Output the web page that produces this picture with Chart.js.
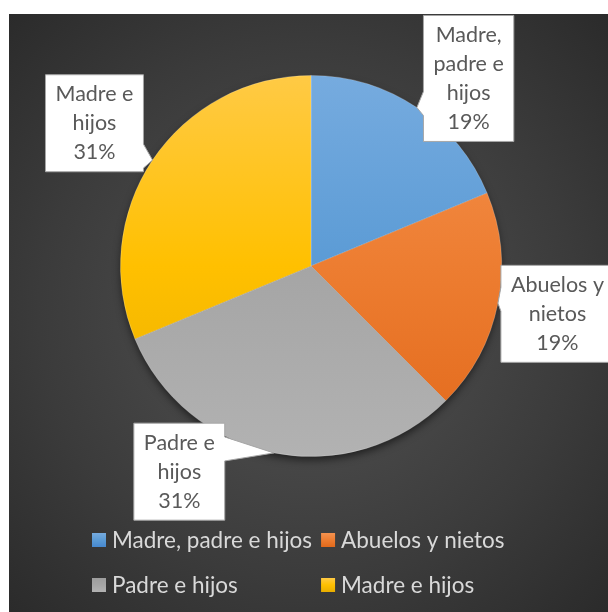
<!DOCTYPE html>
<html>
<head>
<meta charset="utf-8">
<script src="https://cdn.jsdelivr.net/npm/chart.js@4.4.0/dist/chart.umd.min.js"></script>
<style>
html, body { margin: 0; padding: 0; background: #fff; }
#wrap {
  position: absolute; left: 9px; top: 14px; width: 599px; height: 598px;
  background: radial-gradient(ellipse 75% 75% at 50% 50%, #545454 0%, #3b3b3b 60%, #282828 100%);
}
</style>
</head>
<body>
<div id="wrap"><canvas id="c" width="599" height="598"></canvas></div>
<script>
var categories = ['Madre, padre e hijos', 'Abuelos y nietos', 'Padre e hijos', 'Madre e hijos'];
var values = [3, 3, 5, 5]; // 19%, 19%, 31%, 31%
var labelLines = [['Madre,', 'padre e', 'hijos'], ['Abuelos y', 'nietos'], ['Padre e', 'hijos'], ['Madre e', 'hijos']];
var colorsTop = ['#76abdf', '#f5924f', '#9d9d9d', '#ffca45'];
var colorsMid = ['#5b9bd5', '#ed7d31', '#a5a5a5', '#ffc000'];
var colorsBottom = ['#4688cf', '#e2691b', '#b2b2b2', '#e9ae00'];
// where each label box sits, in pie radii from the pie centre
var calloutPos = [[0.827, -0.984], [1.293, 0.251], [-0.691, 1.079], [-1.136, -0.749]];

var FONT = 'Lato, "Open Sans", sans-serif';
var total = values.reduce(function (a, b) { return a + b; }, 0);

function vGradient(ctx, i, y0, y1) {
  var g = ctx.createLinearGradient(0, y0, 0, y1);
  g.addColorStop(0, colorsTop[i]);
  g.addColorStop(0.5, colorsMid[i]);
  g.addColorStop(1, colorsBottom[i]);
  return g;
}

// soft shadow under the whole pie
var pieShadow = {
  id: 'pieShadow',
  beforeDatasetsDraw: function (chart) {
    var arc = chart.getDatasetMeta(0).data[0];
    if (!arc) return;
    var ctx = chart.ctx;
    ctx.save();
    ctx.shadowColor = 'rgba(0,0,0,0.6)';
    ctx.shadowBlur = 9;
    ctx.shadowOffsetY = 4;
    ctx.fillStyle = '#3a3a3a';
    ctx.beginPath();
    ctx.arc(arc.x, arc.y, arc.outerRadius - 1, 0, Math.PI * 2);
    ctx.fill();
    ctx.restore();
  }
};

// white callout boxes with a pointer to the slice
var callouts = {
  id: 'callouts',
  afterDatasetsDraw: function (chart) {
    var ctx = chart.ctx;
    var arcs = chart.getDatasetMeta(0).data;
    ctx.save();
    ctx.font = '21.5px ' + FONT;
    arcs.forEach(function (arc, i) {
      var r = arc.outerRadius;
      var mid = (arc.startAngle + arc.endAngle) / 2;
      var tip = { x: arc.x + Math.cos(mid) * r, y: arc.y + Math.sin(mid) * r };
      var lines = labelLines[i].concat([Math.round(values[i] / total * 100) + '%']);
      var lh = 29, w = 0;
      lines.forEach(function (t) { w = Math.max(w, ctx.measureText(t).width); });
      w += 20;
      var h = lines.length * lh + 10;
      var cx = arc.x + calloutPos[i][0] * r, cy = arc.y + calloutPos[i][1] * r;
      var L = cx - w / 2, R = cx + w / 2, T = cy - h / 2, B = cy + h / 2;
      var hw = 12;
      var by = Math.min(Math.max(tip.y - 4, T + hw + 2), B - hw - 2);
      var bx = Math.min(Math.max(tip.x, L + hw + 2), R - hw - 2);
      var pts = [[L, T], [R, T]];
      if (tip.x > R) pts.push([R, by - hw], [tip.x, tip.y], [R, by + hw]);
      pts.push([R, B]);
      if (tip.y > B && tip.x >= L && tip.x <= R) pts.push([bx + hw, B], [tip.x, tip.y], [bx - hw, B]);
      pts.push([L, B]);
      if (tip.x < L) pts.push([L, by + hw], [tip.x, tip.y], [L, by - hw]);
      if (tip.y < T && tip.x >= L && tip.x <= R) pts.push([bx - hw, T], [tip.x, tip.y], [bx + hw, T]);
      ctx.beginPath();
      pts.forEach(function (p, k) { if (k === 0) ctx.moveTo(p[0], p[1]); else ctx.lineTo(p[0], p[1]); });
      ctx.closePath();
      ctx.fillStyle = '#ffffff';
      ctx.fill();
      ctx.strokeStyle = '#a6a6a6';
      ctx.lineWidth = 1;
      ctx.stroke();
      ctx.fillStyle = '#595959';
      ctx.textAlign = 'center';
      ctx.textBaseline = 'middle';
      lines.forEach(function (t, k) {
        ctx.fillText(t, cx, T + 5 + lh * k + lh / 2);
      });
    });
    ctx.restore();
  }
};

// two-column legend under the pie
var gridLegend = {
  id: 'gridLegend',
  afterDraw: function (chart) {
    var ctx = chart.ctx;
    ctx.save();
    ctx.font = '22.5px ' + FONT;
    ctx.textBaseline = 'middle';
    ctx.textAlign = 'left';
    var col1 = 0;
    for (var k = 0; k < categories.length; k += 2) col1 = Math.max(col1, ctx.measureText(categories[k]).width);
    var x0 = 83, box = 14, gap = 6, colGap = 9;
    var xs = [x0, x0 + box + gap + col1 + colGap];
    var ys = [526, 571];
    categories.forEach(function (name, i) {
      var x = xs[i % 2], y = ys[Math.floor(i / 2)];
      ctx.fillStyle = vGradient(ctx, i, y - box / 2, y + box / 2);
      ctx.fillRect(x, y - box / 2, box, box);
      ctx.fillStyle = '#d9d9d9';
      ctx.fillText(name, x + box + gap, y + 1);
    });
    ctx.restore();
  }
};

new Chart(document.getElementById('c'), {
  type: 'pie',
  data: {
    labels: categories,
    datasets: [{
      data: values,
      backgroundColor: function (c) {
        var a = c.chart.chartArea;
        if (!a) return colorsMid[c.dataIndex];
        return vGradient(c.chart.ctx, c.dataIndex, a.top, a.bottom);
      },
      borderColor: 'rgba(255,255,255,0.25)',
      borderWidth: 0.8
    }]
  },
  options: {
    responsive: false,
    animation: false,
    layout: { padding: { top: 61, bottom: 155, left: 5, right: 0 } },
    plugins: {
      legend: { display: false },
      tooltip: { enabled: false }
    }
  },
  plugins: [pieShadow, callouts, gridLegend]
});
</script>
</body>
</html>
